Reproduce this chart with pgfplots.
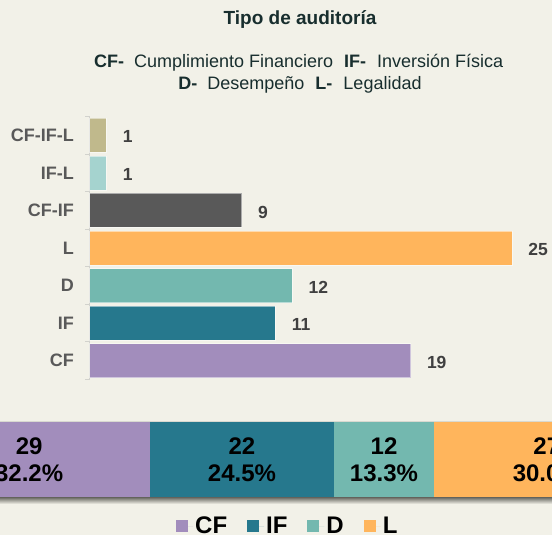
\documentclass[border=0pt]{standalone}
\usepackage{pgfplots}
\pgfplotsset{compat=1.18}
\usepackage{fontspec}
\setmainfont{Liberation Sans}

\definecolor{bg}{RGB}{242,241,232}
\definecolor{titlec}{RGB}{24,46,46}
\definecolor{catgray}{RGB}{89,89,89}
\definecolor{valgray}{RGB}{64,64,64}
\definecolor{axisgray}{RGB}{210,210,205}
\definecolor{cfc}{RGB}{162,141,188}
\definecolor{ifc}{RGB}{38,120,141}
\definecolor{dc}{RGB}{115,184,175}
\definecolor{lc}{RGB}{255,181,92}
\definecolor{cfifc}{RGB}{89,89,89}
\definecolor{iflc}{RGB}{165,211,207}
\definecolor{cfiflc}{RGB}{192,185,140}

\newcommand{\titlefont}{\fontsize{19bp}{22bp}\selectfont\bfseries}
\newcommand{\subfont}{\fontsize{18bp}{21bp}\selectfont}
\newcommand{\catfont}{\fontsize{18bp}{21bp}\selectfont\bfseries}
\newcommand{\valfont}{\fontsize{17.5bp}{20bp}\selectfont\bfseries}
\newcommand{\bigfont}{\fontsize{24bp}{26.7bp}\selectfont\bfseries}

\begin{document}
\begin{tikzpicture}
\fill[bg] (0bp,0bp) rectangle (552bp,535bp);
\path[use as bounding box, clip] (0bp,0bp) rectangle (552bp,535bp);

% titles
\node[anchor=base, inner sep=0pt, text=titlec, font=\titlefont] at (300bp,510bp) {Tipo de auditoría};
\node[anchor=base, inner sep=0pt, text=titlec, font=\subfont] at (298.6bp,467.7bp)
  {\textbf{CF-}\hspace{10bp}Cumplimiento Financiero\hspace{11bp}\textbf{IF-}\hspace{11bp}Inversión Física};
\node[anchor=base, inner sep=0pt, text=titlec, font=\subfont] at (300bp,445.3bp)
  {\textbf{D-}\hspace{10bp}Desempeño\hspace{11bp}\textbf{L-}\hspace{11bp}Legalidad};

% bar chart
\begin{axis}[
  at={(89.5bp,155.7bp)}, anchor=south west,
  scale only axis, width=456.3bp, height=262.6bp,
  xbar, bar width=34bp,
  xmin=0, xmax=27, ymin=-0.5, ymax=6.5,
  hide x axis,
  axis y line*=left,
  y axis line style={draw=axisgray, line width=0.8bp, -},
  ytick={0,...,6},
  yticklabels={CF,IF,D,L,CF-IF,IF-L,CF-IF-L},
  major tick length=0pt,
  extra y ticks={-0.5,0.5,...,6.5},
  extra y tick labels={},
  extra y tick style={major tick length=4bp, tick align=outside,
    tick style={draw=axisgray, line width=0.8bp}},
  yticklabel style={font=\catfont, text=catgray, inner sep=0pt, xshift=-15.5bp},
  /pgf/number format/assume math mode=true,
  point meta=x,
  nodes near coords,
  every node near coord/.append style={anchor=west, inner sep=0pt, xshift=16bp,
    yshift=-1.5bp, font=\valfont, text=valgray},
  clip=false,
]
\addplot[fill=cfc, draw=white, draw opacity=0.5, line width=0.8bp, bar shift=0pt] coordinates {(19,0)};
\addplot[fill=ifc, draw=white, draw opacity=0.5, line width=0.8bp, bar shift=0pt] coordinates {(11,1)};
\addplot[fill=dc, draw=white, draw opacity=0.5, line width=0.8bp, bar shift=0pt] coordinates {(12,2)};
\addplot[fill=lc, draw=white, draw opacity=0.5, line width=0.8bp, bar shift=0pt] coordinates {(25,3)};
\addplot[fill=cfifc, draw=white, draw opacity=0.5, line width=0.8bp, bar shift=0pt] coordinates {(9,4)};
\addplot[fill=iflc, draw=white, draw opacity=0.5, line width=0.8bp, bar shift=0pt] coordinates {(1,5)};
\addplot[fill=cfiflc, draw=white, draw opacity=0.5, line width=0.8bp, bar shift=0pt] coordinates {(1,6)};
\end{axis}

% shadow under the summary bar
\shade[top color={rgb,255:red,105;green,105;blue,98}, bottom color=bg] (0bp,31bp) rectangle (552bp,37.7bp);
\shade[top color=bg, bottom color={rgb,255:red,200;green,200;blue,192}] (0bp,113.3bp) rectangle (552bp,115bp);

% summary bar
\begin{axis}[
  at={(0bp,37.7bp)}, anchor=south west,
  scale only axis, width=552bp, height=75.6bp,
  xbar stacked, bar width=75.6bp,
  xmin=11.018, xmax=77.126, ymin=-0.5, ymax=0.5,
  hide axis,
  legend style={at={(axis description cs:0.3188,-0.38)}, anchor=west,
    draw=none, fill=none, inner sep=0pt, legend columns=-1,
    font=\bigfont, text=black,
    /tikz/every even column/.append style={column sep=18bp}},
  legend image code/.code={\fill[#1, draw=none] (0bp,-6bp) rectangle (12bp,6bp);
    \path (0bp,0bp) -- (17bp,0bp);},
]
\addplot[fill=cfc, draw=none] coordinates {(29,0)};
\addlegendentry{CF}
\addplot[fill=ifc, draw=none] coordinates {(22,0)};
\addlegendentry{IF}
\addplot[fill=dc, draw=none] coordinates {(12,0)};
\addlegendentry{D}
\addplot[fill=lc, draw=none] coordinates {(27,0)};
\addlegendentry{L}
\end{axis}

% labels of the summary bar segments
\begin{scope}[every node/.style={align=center, font=\bigfont, inner sep=0pt, text=black}]
\node at (29.1bp,75.5bp) {29\\32.2\%};
\node at (242bp,75.5bp) {22\\24.5\%};
\node at (384bp,75.5bp) {12\\13.3\%};
\node at (546.8bp,75.5bp) {27\\30.0\%};
\end{scope}
\end{tikzpicture}
\end{document}
